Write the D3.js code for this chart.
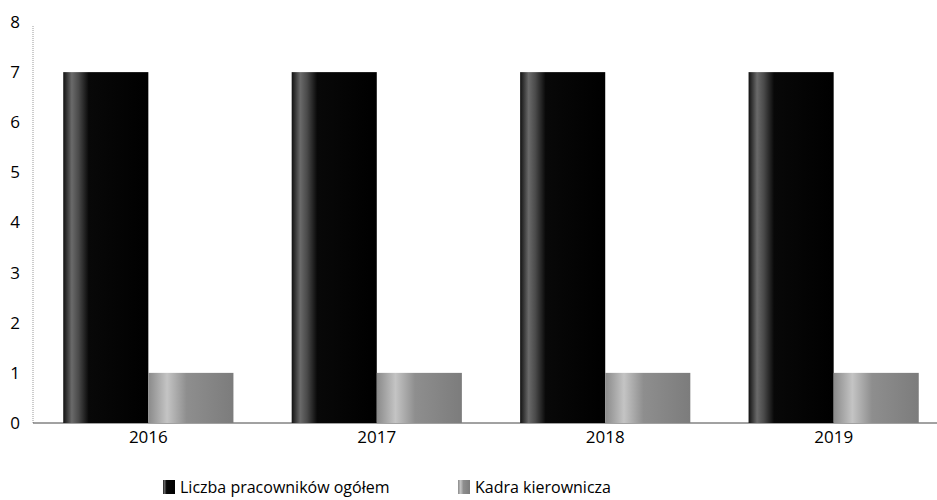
<!DOCTYPE html>
<html><head><meta charset="utf-8">
<script src="https://cdn.jsdelivr.net/npm/d3@7"></script>
<style>body{margin:0;background:#fff}svg{display:block}text{font-family:"Open Sans","Noto Sans",sans-serif;fill:#000}</style>
</head><body><svg width="937" height="500"></svg>
<script>
const years = ["2016","2017","2018","2019"];
const seriesNames = ["Liczba pracowników ogółem","Kadra kierownicza"];
const ogolem = [7,7,7,7];
const kadra = [1,1,1,1];
const yTicks = [0,1,2,3,4,5,6,7,8];

const svg = d3.select("svg");
const defs = svg.append("defs");
function grad(id, stops){
  const g = defs.append("linearGradient").attr("id",id).attr("x1","0").attr("x2","1").attr("y1","0").attr("y2","0");
  stops.forEach(s=>g.append("stop").attr("offset",s[0]).attr("stop-color",s[1]));
}
grad("gBlack",[[0,"#111"],[0.1,"#6a6a6a"],[0.18,"#4a4a4a"],[0.3,"#080808"],[1,"#000"]]);
grad("gGray",[[0,"#8a8a8a"],[0.22,"#c4c4c4"],[0.45,"#8e8e8e"],[1,"#7c7c7c"]]);

const x0 = d3.scaleBand().domain(years).range([34,948]).paddingInner(0.255).paddingOuter(0.128);
const x1 = d3.scaleBand().domain([0,1]).range([0,x0.bandwidth()]);
const y = d3.scaleLinear().domain([0,8]).range([423,22]);

svg.append("line").attr("x1",33).attr("x2",33).attr("y1",y(8)+4).attr("y2",y(0))
  .attr("stroke","#999").attr("stroke-width",1).attr("stroke-dasharray","1,1");
svg.append("line").attr("x1",33).attr("x2",937).attr("y1",y(0)).attr("y2",y(0))
  .attr("stroke","#444").attr("stroke-width",1);

const yAxis = d3.axisLeft(y).tickValues(yTicks).tickSize(0).tickPadding(0);
const ya = svg.append("g").attr("transform","translate(15,0)").call(yAxis);
ya.select(".domain").remove();
ya.selectAll("text").attr("font-size",17).attr("text-anchor","middle");

const xAxis = d3.axisBottom(x0).tickSize(0).tickPadding(8);
const xa = svg.append("g").attr("transform",`translate(0,${y(0)})`).call(xAxis);
xa.select(".domain").remove();
xa.selectAll("text").attr("font-size",17);

const g = svg.append("g");
years.forEach((yr,i)=>{
  [ogolem[i],kadra[i]].forEach((v,j)=>{
    g.append("rect").attr("x",x0(yr)+x1(j)).attr("width",x1.bandwidth())
      .attr("y",y(v)).attr("height",y(0)-y(v))
      .attr("fill", j===0?"url(#gBlack)":"url(#gGray)");
  });
});

const leg = svg.append("g").attr("transform","translate(163,487)");
const legX = [0,295];
seriesNames.forEach((n,i)=>{
  leg.append("rect").attr("x",legX[i]).attr("y",-7).attr("width",12).attr("height",14)
    .attr("fill", i===0?"url(#gBlack)":"url(#gGray)");
  leg.append("text").attr("x",legX[i]+17).attr("y",6).attr("font-size",16).text(n);
});
</script></body></html>
